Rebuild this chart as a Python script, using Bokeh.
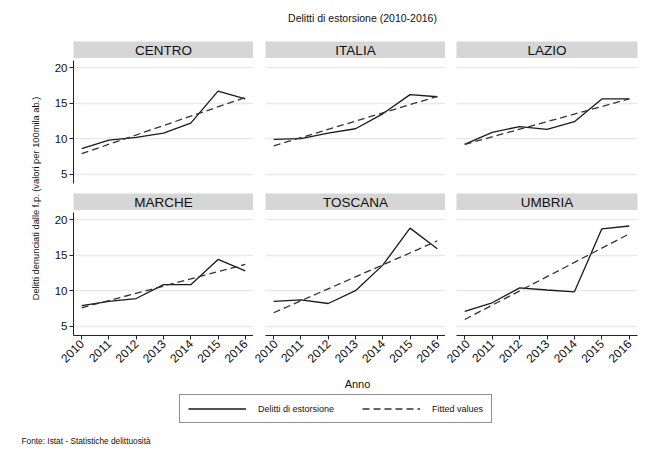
from math import pi
from bokeh.plotting import figure
from bokeh.layouts import row, column
from bokeh.models import Range1d, FixedTicker, Legend, LegendItem, ColumnDataSource
from bokeh.core.properties import value
from bokeh.embed import file_html
from bokeh.resources import INLINE

FONT = "Liberation Sans"

# ---------------- data ----------------
years = [2010, 2011, 2012, 2013, 2014, 2015, 2016]
regions = ["CENTRO", "ITALIA", "LAZIO", "MARCHE", "TOSCANA", "UMBRIA"]
centro = [8.6, 9.8, 10.2, 10.8, 12.2, 16.7, 15.6]
italia = [9.9, 10.0, 10.8, 11.4, 13.5, 16.2, 15.9]
lazio = [9.2, 10.9, 11.7, 11.3, 12.4, 15.6, 15.6]
marche = [7.9, 8.5, 8.9, 10.85, 10.85, 14.4, 12.8]
toscana = [8.5, 8.7, 8.2, 10.0, 13.6, 18.8, 15.9]
umbria = [7.1, 8.3, 10.4, 10.1, 9.85, 18.7, 19.1]
series = [centro, italia, lazio, marche, toscana, umbria]
# fitted values (linear fit), read at 2010 and 2016
fit_start = [7.9, 9.0, 9.2, 7.6, 6.9, 5.95]
fit_end = [15.8, 15.95, 15.6, 13.7, 17.0, 18.0]

y_ticks = [5, 10, 15, 20]
x_ticks = years
title_text = "Delitti di estorsione (2010-2016)"
y_title = "Delitti denunciati dalle f.p. (valori per 100mila ab.)"
x_title = "Anno"
legend_labels = ["Delitti di estorsione", "Fitted values"]
source_note = "Fonte: Istat - Statistiche delittuosità"

# ---------------- geometry ----------------
col_left = [26, 12, 11]
col_frame = [180, 180, 181]
col_right = [0, 0, 2]
FRAME_H = 123
HDR_H = 17
LINE_C = "#1a1a1a"
GRID_C = "#e9e9e9"
HDR_C = "#d6d6d6"
TOP_H = 41
LEFT_W = 47
BOT_H = 85


def blank(width, height, xr, yr):
    p = figure(width=width, height=height, x_range=Range1d(*xr), y_range=Range1d(*yr),
               toolbar_location=None, output_backend="svg", title=None,
               x_axis_location=None, y_axis_location=None, min_border=0)
    p.grid.visible = False
    p.outline_line_color = None
    p.background_fill_color = "white"
    p.border_fill_color = "white"
    return p


def header(c, label):
    w = col_left[c] + col_frame[c] + col_right[c]
    p = figure(width=w, height=HDR_H, x_range=Range1d(0, 1), y_range=Range1d(0, 1),
               toolbar_location=None, output_backend="svg", title=None,
               x_axis_location=None, y_axis_location=None)
    p.min_border_left = col_left[c]
    p.min_border_right = col_right[c]
    p.min_border_top = 0
    p.min_border_bottom = 0
    p.grid.visible = False
    p.outline_line_color = None
    p.background_fill_color = HDR_C
    p.border_fill_color = "white"
    p.text(x=[0.5], y=[0.48], text=[label], text_align="center", text_baseline="middle",
           text_font=value(FONT), text_font_size="13.5px", text_color="#111111")
    return p


def panel(i):
    c = i % 3
    rw = i // 3
    bottom = 10 if rw == 0 else 36
    w = col_left[c] + col_frame[c] + col_right[c]
    p = figure(width=w, height=2 + FRAME_H + bottom,
               x_range=Range1d(2009.7, 2016.3), y_range=Range1d(3.7, 21.0),
               toolbar_location=None, output_backend="svg", title=None,
               x_axis_location="below" if rw == 1 else None,
               y_axis_location="left" if c == 0 else None)
    p.min_border_left = col_left[c]
    p.min_border_right = col_right[c]
    p.min_border_top = 2
    p.min_border_bottom = bottom
    p.outline_line_color = None
    p.background_fill_color = "white"
    p.border_fill_color = "white"
    p.xgrid.visible = False
    p.ygrid.ticker = FixedTicker(ticks=y_ticks)
    p.ygrid.grid_line_color = GRID_C
    p.ygrid.grid_line_width = 1.5
    if c == 0:
        ax = p.yaxis[0]
        ax.ticker = FixedTicker(ticks=y_ticks)
        ax.major_label_text_font = FONT
        ax.major_label_text_font_size = "11.5px"
        ax.major_label_text_color = "#111111"
        ax.major_tick_out = 4
        ax.major_tick_in = 0
        ax.minor_tick_out = 0
        ax.minor_tick_in = 0
        ax.major_label_standoff = 2
        ax.axis_line_color = "#222222"
        ax.major_tick_line_color = "#222222"
    if rw == 1:
        ax = p.xaxis[0]
        ax.ticker = FixedTicker(ticks=x_ticks)
        ax.major_label_orientation = pi / 4
        ax.major_label_text_font = FONT
        ax.major_label_text_font_size = "12px"
        ax.major_label_text_color = "#111111"
        ax.major_tick_out = 4
        ax.major_tick_in = 0
        ax.minor_tick_out = 0
        ax.minor_tick_in = 0
        ax.major_label_standoff = 2
        ax.axis_line_color = "#222222"
        ax.major_tick_line_color = "#222222"
    p.line(years, series[i], line_color=LINE_C, line_width=1.3)
    p.line([years[0], years[-1]], [fit_start[i], fit_end[i]], line_color="#333333",
           line_width=1.3, line_dash="7 4")
    return p


headers = [header(i % 3, regions[i]) for i in range(6)]
panels = [panel(i) for i in range(6)]

panels_col = column(row(*headers[:3]), row(*panels[:3]), row(*headers[3:]), row(*panels[3:]))
mid_h = HDR_H + (2 + FRAME_H + 10) + HDR_H + (2 + FRAME_H + 36)

# y axis title
ylab = blank(LEFT_W, mid_h, (0, LEFT_W), (0, mid_h))
ylab.text(x=[35], y=[mid_h - 157], text=[y_title], angle=pi / 2, text_align="center",
          text_baseline="middle", text_font=value(FONT), text_font_size="9.3px",
          text_color="#111111")

# main title
title_fig = blank(655, TOP_H, (0, 655), (0, TOP_H))
title_fig.text(x=[362], y=[TOP_H - 17], text=[title_text], text_align="center",
               text_baseline="middle", text_font=value(FONT), text_font_size="10.5px",
               text_color="#111111")

# bottom: x title, legend, note
bottom_fig = blank(655, BOT_H, (0, 655), (0, BOT_H))
bottom_fig.text(x=[357], y=[BOT_H - 12], text=[x_title], text_align="center",
                text_baseline="middle", text_font=value(FONT), text_font_size="11px",
                text_color="#111111")
bottom_fig.text(x=[21], y=[16], text=[source_note], text_align="left", text_baseline="middle",
                text_font=value(FONT), text_font_size="8.3px", text_color="#111111")
nan = float("nan")
empty = ColumnDataSource(data=dict(x=[nan, nan], y=[nan, nan]))
r1 = bottom_fig.line("x", "y", source=empty, line_color=LINE_C, line_width=1.3)
r2 = bottom_fig.line("x", "y", source=empty, line_color="#333333", line_width=1.3,
                     line_dash="7 4")
legend = Legend(items=[LegendItem(label=legend_labels[0], renderers=[r1], index=0),
                       LegendItem(label=legend_labels[1], renderers=[r2], index=0)],
                orientation="horizontal", location=(179, 33),
                border_line_color="#222222", border_line_width=1,
                background_fill_color="white", background_fill_alpha=1.0,
                padding=8, spacing=28, glyph_width=58, glyph_height=11,
                label_standoff=12, label_height=11, margin=0,
                label_text_font=FONT, label_text_font_size="9px",
                label_text_color="#111111")
bottom_fig.add_layout(legend, "center")

layout = column(title_fig, row(ylab, panels_col), bottom_fig)

open("out.html", "w").write(file_html(layout, INLINE))
